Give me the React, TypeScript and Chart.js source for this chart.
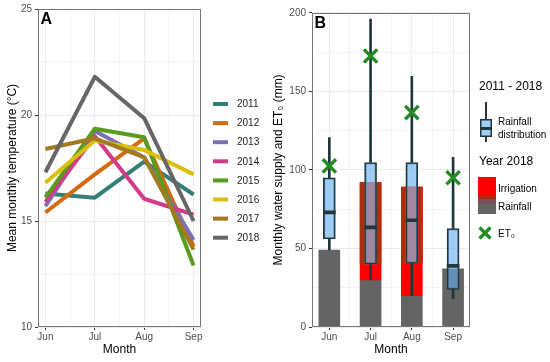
import React, { useEffect, useRef } from 'react';
import { Chart, registerables } from 'chart.js';

Chart.register(...registerables);

const FONT = "'Liberation Sans', Arial, Helvetica, sans-serif";

// ---------- data ----------
const months = ['Jun', 'Jul', 'Aug', 'Sep'];
const monthIndex = [6, 7, 8, 9];
const monthTicks = [6, 6.5, 7, 7.5, 8, 8.5, 9];

const years = ['2011', '2012', '2013', '2014', '2015', '2016', '2017', '2018'];
const yearColors = ['#337F76', '#D46A10', '#7B70B5', '#D43A8A', '#5A9A1C', '#D9BE0C', '#A37A1E', '#666666'];
const temp2011 = [16.3, 16.1, 17.8, 16.25];
const temp2012 = [15.4, 17.2, 18.9, 13.8];
const temp2013 = [15.7, 19.25, 18.0, 14.1];
const temp2014 = [15.9, 19.0, 16.05, 15.3];
const temp2015 = [16.1, 19.35, 18.95, 12.9];
const temp2016 = [16.8, 18.8, 18.35, 17.2];
const temp2017 = [18.4, 18.9, 18.0, 13.65];
const temp2018 = [17.3, 21.8, 19.85, 15.0];
const tempByYear = [temp2011, temp2012, temp2013, temp2014, temp2015, temp2016, temp2017, temp2018];
const tempTicks = [10, 12.5, 15, 17.5, 20, 22.5, 25];
const tempLabels = [10, 15, 20, 25];

const supplyTicks = [0, 25, 50, 75, 100, 125, 150, 175, 200];
const supplyLabels = [0, 50, 100, 150, 200];
const rainfall2018 = [49, 30, 20, 37];
const irrigation2018 = [0, 62, 69, 0];
const rainMin = [49, 30, 20, 18];
const rainQ1 = [56, 40, 40.5, 24];
const rainMedian = [72, 62.5, 67, 38];
const rainQ3 = [95, 104.7, 104.7, 62.7];
const rainMax = [120.5, 196, 159.5, 108];
const et0 = [102.5, 172.5, 136.5, 95];

// ---------- styles ----------
const TICK_COLOR = '#4D4D4D';
const GRID_MAJOR = '#EBEBEB';
const GRID_MINOR = '#F4F4F4';
const FRAME = '#777777';
const GREY_BAR = '#646464';
const RED_BAR = '#FF0000';
const INNER_RED = '#FF5030';
const RUST = '#A8300C';
const BOX_FILL = 'rgba(100,172,236,0.6)';
const BOX_LINE = '#21373B';
const ET_GREEN = '#238B23';

const monthLabel = (v: any) => {
  const k = monthIndex.indexOf(Number(v));
  return k >= 0 ? months[k] : '';
};

const gridOpts = (isMajor: (v: number) => boolean) => ({
  color: (c: any) => (c.tick && isMajor(c.tick.value) ? GRID_MAJOR : GRID_MINOR),
  lineWidth: 1,
  tickLength: 3,
  tickColor: (c: any) => (c.tick && isMajor(c.tick.value) ? '#333333' : 'rgba(0,0,0,0)'),
  drawOnChartArea: true,
  drawTicks: true,
});

const framePlugin = (letter: string) => ({
  id: 'frame' + letter,
  afterDatasetsDraw(chart: any) {
    const { ctx, chartArea: a } = chart;
    ctx.save();
    ctx.strokeStyle = FRAME;
    ctx.lineWidth = 1;
    ctx.strokeRect(Math.round(a.left) + 0.5, Math.round(a.top) + 0.5, Math.round(a.right - a.left) - 1, Math.round(a.bottom - a.top) - 1);
    ctx.fillStyle = '#000';
    ctx.font = `bold 16px ${FONT}`;
    ctx.textAlign = 'left';
    ctx.textBaseline = 'alphabetic';
    ctx.fillText(letter, a.left + 2.5, a.top + 15);
    ctx.restore();
  },
});

const yearLegend = {
  id: 'yearLegend',
  afterDraw(chart: any) {
    const ctx = chart.ctx;
    ctx.save();
    chart.data.datasets.forEach((ds: any, i: number) => {
      const y = 104 + i * 19.1;
      ctx.strokeStyle = ds.borderColor;
      ctx.lineWidth = 4;
      ctx.lineCap = 'butt';
      ctx.beginPath();
      ctx.moveTo(213, y);
      ctx.lineTo(228, y);
      ctx.stroke();
      ctx.fillStyle = '#1A1A1A';
      ctx.font = `10px ${FONT}`;
      ctx.textAlign = 'left';
      ctx.textBaseline = 'middle';
      ctx.fillText(ds.label, 237, y + 0.5);
    });
    ctx.restore();
  },
};

const supplyLegend = {
  id: 'supplyLegend',
  afterDraw(chart: any) {
    const ctx = chart.ctx;
    const ox = 262;
    ctx.save();
    ctx.textAlign = 'left';
    ctx.textBaseline = 'middle';
    ctx.fillStyle = '#000';
    ctx.font = `12px ${FONT}`;
    ctx.fillText('2011 - 2018', 479 - ox, 87);
    ctx.fillText('Year 2018', 479 - ox, 162);
    // boxplot key
    ctx.strokeStyle = BOX_LINE;
    ctx.lineWidth = 2;
    ctx.beginPath();
    ctx.moveTo(486 - ox, 102);
    ctx.lineTo(486 - ox, 142);
    ctx.stroke();
    ctx.fillStyle = '#fff';
    ctx.fillRect(480 - ox, 119, 12, 18);
    ctx.fillStyle = BOX_FILL;
    ctx.fillRect(480 - ox, 119, 12, 18);
    ctx.lineWidth = 1.5;
    ctx.strokeRect(480.75 - ox, 119.75, 10.5, 16.5);
    ctx.fillStyle = BOX_LINE;
    ctx.fillRect(480 - ox, 127, 12, 3);
    ctx.fillStyle = '#000';
    ctx.font = `10px ${FONT}`;
    ctx.fillText('Rainfall', 498 - ox, 122);
    ctx.fillText('distribution', 498 - ox, 135.5);
    // bar keys
    ctx.fillStyle = RED_BAR;
    ctx.fillRect(478 - ox, 177, 18, 20);
    ctx.fillStyle = RUST;
    ctx.fillRect(478 - ox, 196, 18, 3);
    ctx.fillStyle = '#7A4E5A';
    ctx.fillRect(478 - ox, 199, 18, 5);
    ctx.fillStyle = GREY_BAR;
    ctx.fillRect(478 - ox, 204, 18, 10);
    ctx.fillStyle = '#000';
    ctx.fillText('Irrigation', 498 - ox, 189);
    ctx.fillText('Rainfall', 498 - ox, 207.5);
    // ET0 key
    const cx = 485 - ox;
    const cy = 233;
    const r = 5.5;
    ctx.strokeStyle = ET_GREEN;
    ctx.lineWidth = 3.2;
    ctx.beginPath();
    ctx.moveTo(cx - r, cy - r);
    ctx.lineTo(cx + r, cy + r);
    ctx.moveTo(cx - r, cy + r);
    ctx.lineTo(cx + r, cy - r);
    ctx.stroke();
    ctx.fillStyle = '#000';
    ctx.fillText('ET\u2080', 498 - ox, 234);
    ctx.restore();
  },
};

function leftConfig(): any {
  return {
    type: 'line',
    data: {
      datasets: years.map((yr, i) => ({
        label: yr,
        data: monthIndex.map((m, j) => ({ x: m, y: tempByYear[i][j] })),
        borderColor: yearColors[i],
        backgroundColor: yearColors[i],
        borderWidth: 4,
        pointRadius: 0,
        tension: 0,
        borderJoinStyle: 'round',
        borderCapStyle: 'butt',
        order: years.length - i,
      })),
    },
    options: {
      responsive: false,
      animation: false,
      events: [],
      layout: { padding: { left: 0, top: 9, right: 74, bottom: 0 } },
      plugins: { legend: { display: false }, tooltip: { enabled: false } },
      scales: {
        x: {
          type: 'linear',
          min: 5.85,
          max: 9.15,
          afterBuildTicks: (s: any) => {
            s.ticks = monthTicks.map((v) => ({ value: v }));
          },
          afterFit: (s: any) => {
            s.height = 35;
          },
          ticks: { callback: monthLabel, color: TICK_COLOR, font: { size: 10 }, padding: 1, maxRotation: 0, autoSkip: false },
          grid: gridOpts((v) => Number.isInteger(v)),
          border: { display: false },
          title: { display: true, text: 'Month', color: '#000', font: { size: 12 }, padding: { top: 0, bottom: 5 } },
        },
        y: {
          type: 'linear',
          min: 10,
          max: 25,
          afterBuildTicks: (s: any) => {
            s.ticks = tempTicks.map((v) => ({ value: v }));
          },
          afterFit: (s: any) => {
            s.width = 38;
          },
          ticks: {
            callback: (v: any) => (tempLabels.includes(Number(v)) ? String(v) : ''),
            color: TICK_COLOR,
            font: { size: 10 },
            padding: 3,
            autoSkip: false,
          },
          grid: gridOpts((v) => tempLabels.includes(v)),
          border: { display: false },
          title: { display: true, text: 'Mean monthly temperature (°C)', color: '#000', font: { size: 12 }, padding: { top: 5, bottom: 0 } },
        },
      },
    },
    plugins: [framePlugin('A'), yearLegend],
  };
}

function rightConfig(): any {
  const pts = (fn: (j: number) => any, keep: (j: number) => boolean = () => true) =>
    monthIndex.map((m, j) => (keep(j) ? { x: m, y: fn(j) } : null)).filter((p) => p !== null);
  const total = (j: number) => rainfall2018[j] + irrigation2018[j];
  const hasIrr = (j: number) => irrigation2018[j] > 0;
  const overlap = (j: number) => hasIrr(j) && total(j) > rainQ1[j];
  const common = { stack: 's', borderWidth: 0 };
  return {
    type: 'bar',
    data: {
      datasets: [
        { ...common, label: 'Rainfall', data: pts((j) => [0, rainfall2018[j]]), backgroundColor: GREY_BAR, barThickness: 21, order: 10 },
        { ...common, label: 'Irrigation', data: pts((j) => [rainfall2018[j], total(j)], hasIrr), backgroundColor: RED_BAR, barThickness: 21, order: 9 },
        { ...common, label: 'shade', data: pts((j) => [Math.max(rainfall2018[j], rainQ1[j]), total(j)], overlap), backgroundColor: RUST, barThickness: 21, order: 8 },
        { ...common, label: 'inner', data: pts((j) => [Math.max(rainfall2018[j], rainQ1[j]), total(j)], overlap), backgroundColor: INNER_RED, barThickness: 12, order: 7 },
        { ...common, label: 'whiskerLow', data: pts((j) => [rainMin[j], rainQ1[j]]), backgroundColor: BOX_LINE, barThickness: 2, order: 6 },
        { ...common, label: 'whiskerHigh', data: pts((j) => [rainQ3[j], rainMax[j]]), backgroundColor: BOX_LINE, barThickness: 2, order: 6 },
        {
          ...common,
          label: 'box',
          data: pts((j) => [rainQ1[j], rainQ3[j]]),
          backgroundColor: BOX_FILL,
          borderColor: BOX_LINE,
          borderWidth: 1.5,
          borderSkipped: false,
          barThickness: 12,
          order: 5,
        },
        { ...common, label: 'median', data: pts((j) => [rainMedian[j], rainMedian[j]]), backgroundColor: BOX_LINE, minBarLength: 3, barThickness: 12, order: 4 },
        {
          type: 'line',
          label: 'ET0',
          data: pts((j) => et0[j]),
          showLine: false,
          pointStyle: 'crossRot',
          pointRadius: 9.4,
          pointBorderWidth: 3.4,
          pointBorderColor: ET_GREEN,
          pointBackgroundColor: ET_GREEN,
          borderColor: ET_GREEN,
          order: 1,
        },
      ],
    },
    options: {
      responsive: false,
      animation: false,
      events: [],
      layout: { padding: { left: 0, top: 9, right: 80, bottom: 0 } },
      plugins: { legend: { display: false }, tooltip: { enabled: false } },
      scales: {
        x: {
          type: 'linear',
          min: 5.58,
          max: 9.41,
          offset: false,
          stacked: true,
          afterBuildTicks: (s: any) => {
            s.ticks = monthTicks.map((v) => ({ value: v }));
          },
          afterFit: (s: any) => {
            s.height = 35;
          },
          ticks: { callback: monthLabel, color: TICK_COLOR, font: { size: 10 }, padding: 1, maxRotation: 0, autoSkip: false },
          grid: { ...gridOpts((v) => Number.isInteger(v)), offset: false },
          border: { display: false },
          title: { display: true, text: 'Month', color: '#000', font: { size: 12 }, padding: { top: 0, bottom: 5 } },
        },
        y: {
          type: 'linear',
          min: 0,
          max: 200,
          stacked: false,
          afterBuildTicks: (s: any) => {
            s.ticks = supplyTicks.map((v) => ({ value: v }));
          },
          afterFit: (s: any) => {
            s.width = 50;
          },
          ticks: {
            callback: (v: any) => (supplyLabels.includes(Number(v)) ? String(v) : ''),
            color: TICK_COLOR,
            font: { size: 10 },
            padding: 3,
            autoSkip: false,
          },
          grid: gridOpts((v) => supplyLabels.includes(v)),
          border: { display: false },
          title: { display: true, text: 'Monthly water supply and ET\u2080 (mm)', color: '#000', font: { size: 12 }, padding: { top: 9, bottom: 0 } },
        },
      },
    },
    plugins: [framePlugin('B'), supplyLegend],
  };
}

export default function App() {
  const leftRef = useRef<HTMLCanvasElement>(null);
  const rightRef = useRef<HTMLCanvasElement>(null);
  useEffect(() => {
    Chart.defaults.font.family = FONT;
    const a = new Chart(leftRef.current as HTMLCanvasElement, leftConfig());
    const b = new Chart(rightRef.current as HTMLCanvasElement, rightConfig());
    return () => {
      a.destroy();
      b.destroy();
    };
  }, []);
  return (
    <div style={{ position: 'fixed', left: 0, top: 0, width: 550, height: 362, background: '#fff', overflow: 'hidden' }}>
      <canvas ref={leftRef} width={275} height={362} style={{ position: 'absolute', left: 0, top: 0, width: 275, height: 362 }} />
      <canvas ref={rightRef} width={288} height={362} style={{ position: 'absolute', left: 262, top: 0, width: 288, height: 362 }} />
    </div>
  );
}
